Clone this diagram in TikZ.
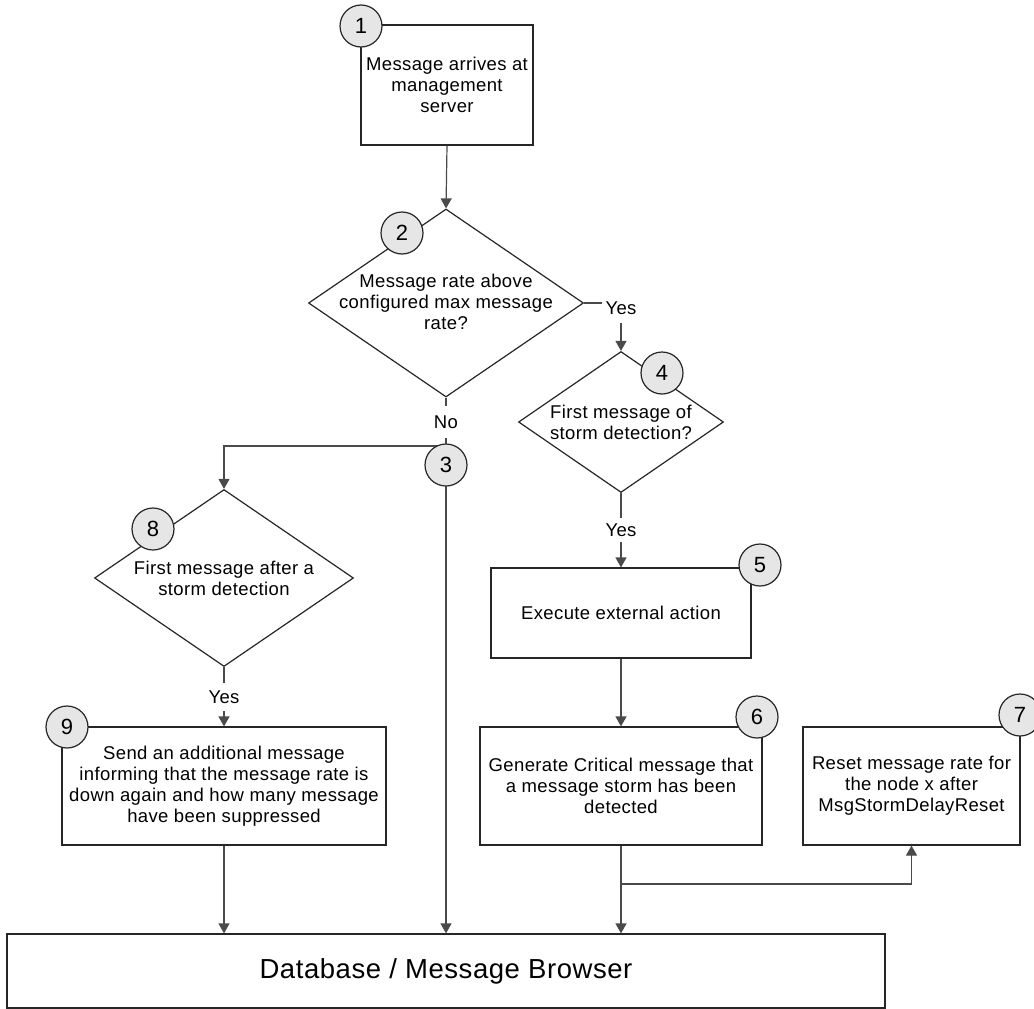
\documentclass[tikz,border=0pt]{standalone}
\usepackage{fontspec}
\setmainfont[LetterSpace=2]{Liberation Sans}
\usetikzlibrary{shapes.geometric,arrows.meta}
\definecolor{boxc}{HTML}{262626}
\definecolor{connc}{HTML}{4A4A4A}
\definecolor{numfill}{HTML}{E6E6E6}
\begin{document}
\begin{tikzpicture}[x=1pt,y=-1pt,
  every node/.style={font=\fontsize{18.5}{21}\selectfont},
  proc/.style={draw=boxc, line width=1.2pt, rectangle, inner sep=0pt, align=center, fill=white},
  dia/.style={draw=boxc, line width=1.2pt, diamond, inner sep=0pt, fill=white},
  qtext/.style={align=center, inner sep=0pt},
  num/.style={draw=boxc, line width=1.2pt, circle, fill=numfill, minimum size=42pt, inner sep=0pt, font=\fontsize{22}{24}\selectfont},
  conn/.style={draw=connc, line width=1.2pt},
  arr/.style={conn, -{Triangle[length=10pt,width=11pt]}},
  lbl/.style={fill=white, inner xsep=4pt},
]
\useasboundingbox (0,0) rectangle (1034,1009);

% boxes and decisions
\node[proc, minimum width=172pt, minimum height=120pt] (b1) at (447,85) {Message arrives at\\management\\server};
\node[dia, minimum width=275pt, minimum height=188pt] (d2) at (446,303) {};
\node[qtext] (d2t) at (446,302) {Message rate above\\configured max message\\rate?};
\node[dia, minimum width=205pt, minimum height=141pt] (d4) at (621,422) {};
\node[qtext] (d4t) at (621,422) {First message of\\storm detection?};
\node[proc, minimum width=260pt, minimum height=90pt] (b5) at (621,613) {Execute external action};
\node[proc, minimum width=282pt, minimum height=118pt] (b6) at (621,786) {Generate Critical message that\\a message storm has been\\detected};
\node[proc, minimum width=217pt, minimum height=118pt] (b7) at (911.5,786) {Reset message rate for\\the node x after\\MsgStormDelayReset};
\node[dia, minimum width=259pt, minimum height=177pt] (d8) at (224,578) {};
\node[qtext] (d8t) at (224,578) {First message after a\\storm detection};
\node[proc, minimum width=324pt, minimum height=118pt] (b9) at (224,786) {Send an additional message\\informing that the message rate is\\down again and how many message\\have been suppressed};
\node[proc, minimum width=878pt, minimum height=74pt, font=\fontsize{27.5}{30}\selectfont] (db) at (446,971) {Database / Message Browser};

% connectors
\draw[arr] (b1.south) -- (d2.north);
\draw[arr] (d2.east) -| (d4.north);
\draw[arr] (d4.south) -- (b5.north);
\draw[arr] (b5.south) -- (b6.north);
\draw[arr] (b6.south) -- (b6.south |- db.north);
\coordinate (j6) at (621,884);
\draw[arr] (j6) -| (b7.south);
\coordinate (c3pos) at (446,465);
\draw[conn] (d2.south) -- (c3pos);
\coordinate (j3) at (446,446);
\draw[arr] (j3) -| (d8.north);
\draw[arr] (c3pos) -- (c3pos |- db.north);
\draw[arr] (d8.south) -- (b9.north);
\draw[arr] (b9.south) -- (b9.south |- db.north);

% labels
\node[lbl, inner ysep=8.5pt] (yes1) at (621,308) {Yes};
\node[lbl, inner ysep=5.5pt] (yes2) at (621,530) {Yes};
\node[lbl, inner ysep=9.5pt] (no) at (446,422) {No};
\node[lbl, inner ysep=8pt] (yes3) at (224,697) {Yes};

% numbered circles
\node[num] (c1) at (361,26) {1};
\node[num] (c2) at (402,233) {2};
\node[num] (c3) at (c3pos) {3};
\node[num] (c4) at (662,373) {4};
\node[num] (c5) at (760,565) {5};
\node[num] (c6) at (757,717) {6};
\node[num] (c7) at (1020,715) {7};
\node[num] (c8) at (153,529) {8};
\node[num] (c9) at (67,727) {9};
\end{tikzpicture}
\end{document}
